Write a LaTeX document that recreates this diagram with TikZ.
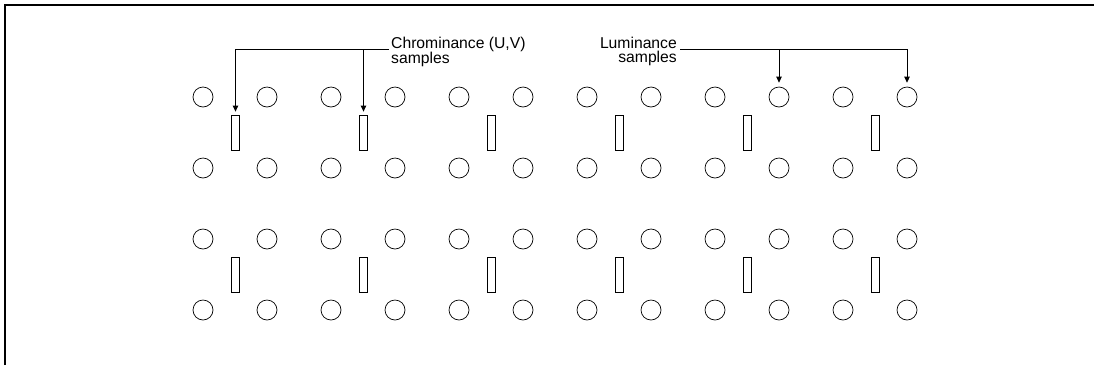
\documentclass[tikz,border=0pt]{standalone}
\usepackage{fontspec}
\setmainfont{Liberation Sans}
\usetikzlibrary{arrows.meta}
\begin{document}
\begin{tikzpicture}[x=1pt,y=-1pt,
  lumasample/.style={circle,draw,line width=0.7pt,minimum size=20pt,inner sep=0pt},
  chromasample/.style={rectangle,draw,line width=0.8pt,minimum width=8pt,minimum height=35pt,inner sep=0pt},
  labeltext/.style={inner sep=0pt,font=\fontsize{15.7}{14}\selectfont},
  pointer/.style={line width=0.8pt,-{Triangle[width=5.5pt,length=6pt]}},
  frameline/.style={line width=1.8pt}]
\useasboundingbox (0,0) rectangle (1094,365);
% frame (top and left edges)
\draw[frameline] (5,365) -- (5,5) -- (1094,5);
% luminance samples
\foreach \r/\yy in {1/97,2/168,3/239,4/310}{
  \foreach \i in {0,...,11}{
    \node[lumasample] (c-\r-\i) at ({203+64*\i},\yy) {};
  }
}
% chrominance samples
\foreach \r/\yy in {1/132.5,2/274.5}{
  \foreach \j in {0,...,5}{
    \node[chromasample] (r-\r-\j) at ({235.5+128*\j},\yy) {};
  }
}
% labels
\node[labeltext,anchor=north west,align=left] (chroma) at (391,36.5) {Chrominance (U,V)\\samples};
\node[labeltext,anchor=north east,align=right] (luma) at (677,36.8) {Luminance\\samples};
\coordinate (cj) at (389,49);
\coordinate (lj) at (680,49);
% chrominance pointers
\draw[pointer,shorten >=3pt] (cj) -| (r-1-0.north);
\draw[pointer,shorten >=3pt] (r-1-1.north |- cj) -- (r-1-1.north);
% luminance pointers
\draw[pointer,shorten >=4pt] (lj) -| (c-1-11.north);
\draw[pointer,shorten >=4pt] (c-1-9.north |- lj) -- (c-1-9.north);
\end{tikzpicture}
\end{document}
